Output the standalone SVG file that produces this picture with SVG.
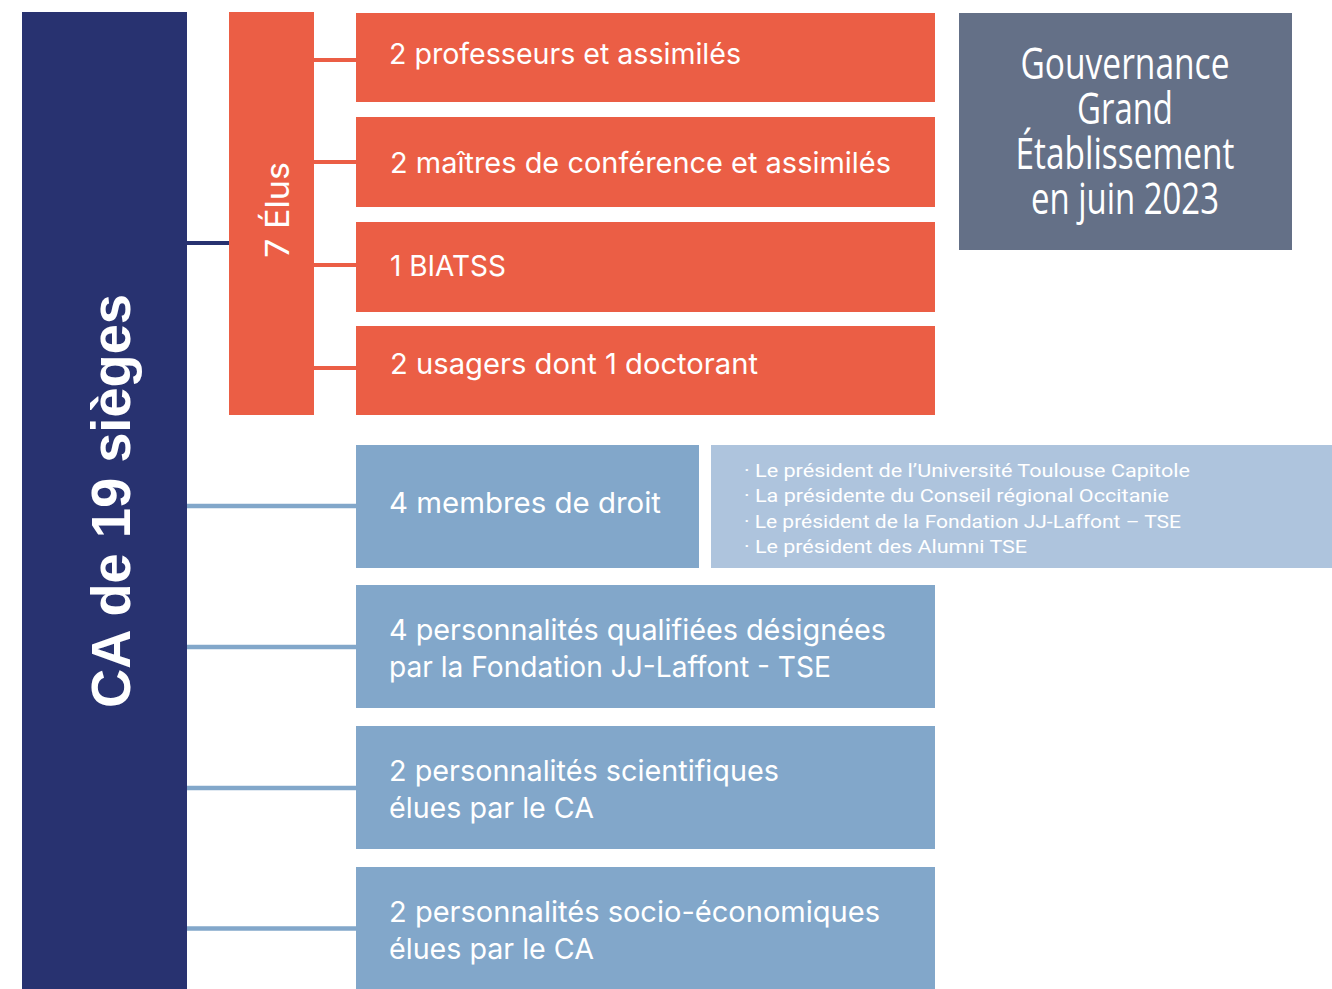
<svg xmlns="http://www.w3.org/2000/svg" width="1332" height="989" viewBox="0 0 1332 989">
<style>
.navy{fill:#283270}
.orange{fill:#EB5E45}
.gray{fill:#647087}
.blue{fill:#82A7CA}
.lblue{fill:#AEC4DD}
.t{font-family:Inter,"Liberation Sans",sans-serif;font-size:29px;fill:#ffffff}
.lst{font-family:Roboto,"Liberation Sans",sans-serif;font-size:19px;fill:#ffffff}
.gt{font-family:"Open Sans","Liberation Sans",sans-serif;font-size:43px;fill:#ffffff;text-anchor:middle}
.big{font-family:"Liberation Sans",Arial,sans-serif;font-size:56px;font-weight:bold;fill:#ffffff;text-anchor:middle}
.elus{font-family:Inter,"Liberation Sans",sans-serif;font-size:33px;fill:#ffffff;text-anchor:middle}
.cn{stroke:#283270;stroke-width:4}
.co{stroke:#EB5E45;stroke-width:4}
.cb{stroke:#82A7CA;stroke-width:4.5}
</style>
<rect width="1332" height="989" fill="#ffffff"/>
<g id="connectors">
<line class="cn" x1="186" y1="243" x2="230" y2="243"/>
<line class="co" x1="313" y1="60" x2="357" y2="60"/>
<line class="co" x1="313" y1="162" x2="357" y2="162"/>
<line class="co" x1="313" y1="265" x2="357" y2="265"/>
<line class="co" x1="313" y1="368" x2="357" y2="368"/>
<line class="cb" x1="186" y1="506" x2="357" y2="506"/>
<line class="cb" x1="186" y1="647" x2="357" y2="647"/>
<line class="cb" x1="186" y1="788" x2="357" y2="788"/>
<line class="cb" x1="186" y1="928.5" x2="357" y2="928.5"/>
</g>
<g id="ca">
<rect class="navy" x="22" y="12" width="165" height="977"/>
<text class="big" transform="translate(130,501) rotate(-90)" textLength="414" lengthAdjust="spacingAndGlyphs">CA de 19 sièges</text>
</g>
<g id="elus">
<rect class="orange" x="229" y="12" width="85" height="403"/>
<text class="elus" transform="translate(289,210) rotate(-90)" textLength="96" lengthAdjust="spacingAndGlyphs">7 Élus</text>
</g>
<g id="professeurs">
<rect class="orange" x="356" y="13" width="579" height="89"/>
<text class="t" x="389" y="64" textLength="352" lengthAdjust="spacingAndGlyphs">2 professeurs et assimilés</text>
</g>
<g id="maitres">
<rect class="orange" x="356" y="117" width="579" height="90"/>
<text class="t" x="390" y="173" textLength="501" lengthAdjust="spacingAndGlyphs">2 maîtres de conférence et assimilés</text>
</g>
<g id="biatss">
<rect class="orange" x="356" y="222" width="579" height="90"/>
<text class="t" x="390" y="276" textLength="116" lengthAdjust="spacingAndGlyphs">1 BIATSS</text>
</g>
<g id="usagers">
<rect class="orange" x="356" y="326" width="579" height="89"/>
<text class="t" x="390" y="374" textLength="368" lengthAdjust="spacingAndGlyphs">2 usagers dont 1 doctorant</text>
</g>
<g id="gouvernance">
<rect class="gray" x="959" y="13" width="333" height="237"/>
<text class="gt" x="1125" y="79" textLength="209" lengthAdjust="spacingAndGlyphs">Gouvernance</text>
<text class="gt" x="1125" y="124" textLength="96" lengthAdjust="spacingAndGlyphs">Grand</text>
<text class="gt" x="1125" y="169" textLength="219" lengthAdjust="spacingAndGlyphs">Établissement</text>
<text class="gt" x="1125" y="214" textLength="188" lengthAdjust="spacingAndGlyphs">en juin 2023</text>
</g>
<g id="membres">
<rect class="blue" x="356" y="445" width="343" height="123"/>
<text class="t" x="389" y="513" textLength="272" lengthAdjust="spacingAndGlyphs">4 membres de droit</text>
</g>
<g id="membres-liste">
<rect class="lblue" x="711" y="445" width="621" height="123"/>
<text class="lst" x="744" y="477" textLength="446" lengthAdjust="spacingAndGlyphs">· Le président de l’Université Toulouse Capitole</text>
<text class="lst" x="744" y="502" textLength="425" lengthAdjust="spacingAndGlyphs">· La présidente du Conseil régional Occitanie</text>
<text class="lst" x="744" y="528" textLength="437" lengthAdjust="spacingAndGlyphs">· Le président de la Fondation JJ-Laffont – TSE</text>
<text class="lst" x="744" y="553" textLength="283" lengthAdjust="spacingAndGlyphs">· Le président des Alumni TSE</text>
</g>
<g id="qualifiees">
<rect class="blue" x="356" y="585" width="579" height="123"/>
<text class="t" x="389" y="640" textLength="497" lengthAdjust="spacingAndGlyphs">4 personnalités qualifiées désignées</text>
<text class="t" x="389" y="677" textLength="442" lengthAdjust="spacingAndGlyphs">par la Fondation JJ-Laffont - TSE</text>
</g>
<g id="scientifiques">
<rect class="blue" x="356" y="726" width="579" height="123"/>
<text class="t" x="389" y="781" textLength="390" lengthAdjust="spacingAndGlyphs">2 personnalités scientifiques</text>
<text class="t" x="389" y="818" textLength="205" lengthAdjust="spacingAndGlyphs">élues par le CA</text>
</g>
<g id="socio">
<rect class="blue" x="356" y="867" width="579" height="122"/>
<text class="t" x="389" y="922" textLength="491" lengthAdjust="spacingAndGlyphs">2 personnalités socio-économiques</text>
<text class="t" x="389" y="959" textLength="205" lengthAdjust="spacingAndGlyphs">élues par le CA</text>
</g>
</svg>
